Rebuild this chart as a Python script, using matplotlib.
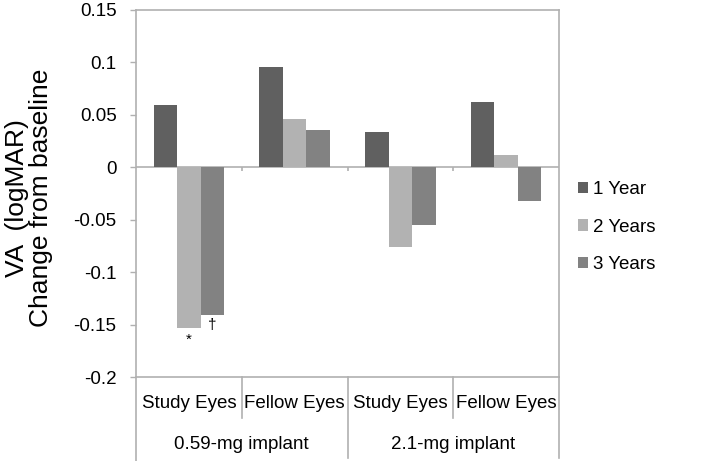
import matplotlib
matplotlib.use("Agg")
import matplotlib.pyplot as plt
import numpy as np

plt.rcParams['font.family'] = ['Liberation Sans', 'DejaVu Sans']

# data
categories = ['Study Eyes', 'Fellow Eyes', 'Study Eyes', 'Fellow Eyes']
groups = ['0.59-mg implant', '2.1-mg implant']
series = ['1 Year', '2 Years', '3 Years']
year1 = [0.059, 0.096, 0.034, 0.062]
year2 = [-0.153, 0.046, -0.076, 0.012]
year3 = [-0.141, 0.036, -0.055, -0.032]
colors = ['#606060', '#b2b2b2', '#828282']
yticks = [-0.2, -0.15, -0.1, -0.05, 0, 0.05, 0.1, 0.15]
ytick_labels = ['-0.2', '-0.15', '-0.1', '-0.05', '0', '0.05', '0.1', '0.15']

W, H = 718, 461
fig = plt.figure(figsize=(W/100, H/100), dpi=100)
ax = fig.add_axes([136/W, (H-377)/H, (559-136)/W, (377-10)/H])

grey = '#b0b0b0'
fs = 13.5
w = 1/4.5
x = np.arange(len(categories)) + 0.5
bars = []
for j, (vals, c, lab) in enumerate(zip([year1, year2, year3], colors, series)):
    b = ax.bar(x + (j-1)*w, vals, w, color=c, label=lab, zorder=3)
    bars.append(b)

ax.set_xlim(0, 4)
ax.set_ylim(-0.2, 0.15)
ax.set_yticks(yticks)
ax.set_yticklabels(ytick_labels, fontsize=fs)
ax.set_xticks([])
ax.tick_params(axis='y', direction='out', length=4, width=1, color=grey, pad=10)
for s in ax.spines.values():
    s.set_color(grey)
    s.set_linewidth(1.2)
ax.spines['left'].set_visible(False)
ax.axhline(0, color=grey, lw=1.2, zorder=2)
# small ticks on the zero line between categories
ax.vlines([1, 2, 3], -0.004, 0, color=grey, lw=1.2)

# left axis line running down through the label table
ax.plot([0, 0], [1, -0.23], transform=ax.transAxes, color=grey, lw=1.2, clip_on=False)
for xb, bottom in [(1, -0.112), (2, -0.221), (3, -0.112), (4, -0.221)]:
    ax.plot([xb, xb], [0, bottom], transform=ax.get_xaxis_transform(), color=grey,
            lw=1.2, clip_on=False)

for xi, lab in zip(x, categories):
    ax.text(xi, -0.071, lab, transform=ax.get_xaxis_transform(), ha='center',
            va='center', fontsize=fs)
for gi, lab in enumerate(groups):
    ax.text(1 + 2*gi, -0.185, lab, transform=ax.get_xaxis_transform(), ha='center',
            va='center', fontsize=fs)

# significance marks
ax.annotate('*', (x[0], year2[0]), xytext=(0, -4), textcoords='offset points',
            ha='center', va='top', fontsize=11)
ax.annotate('\u2020', (x[0] + w, year3[0]), xytext=(0, -2), textcoords='offset points',
            ha='center', va='top', fontsize=11)

fig.text(29/W, 1 - 198/H, 'VA  (logMAR)\nChange from baseline', rotation=90,
         ha='center', va='center', fontsize=19, linespacing=1.05)

fig.legend(handles=bars, labels=series, loc='center left',
           bbox_to_anchor=(570/W, 1 - 227/H), frameon=False, fontsize=fs,
           handlelength=0.55, handleheight=0.55, handletextpad=0.3,
           labelspacing=1.1, borderaxespad=0)

fig.savefig('out.png', dpi=100)
